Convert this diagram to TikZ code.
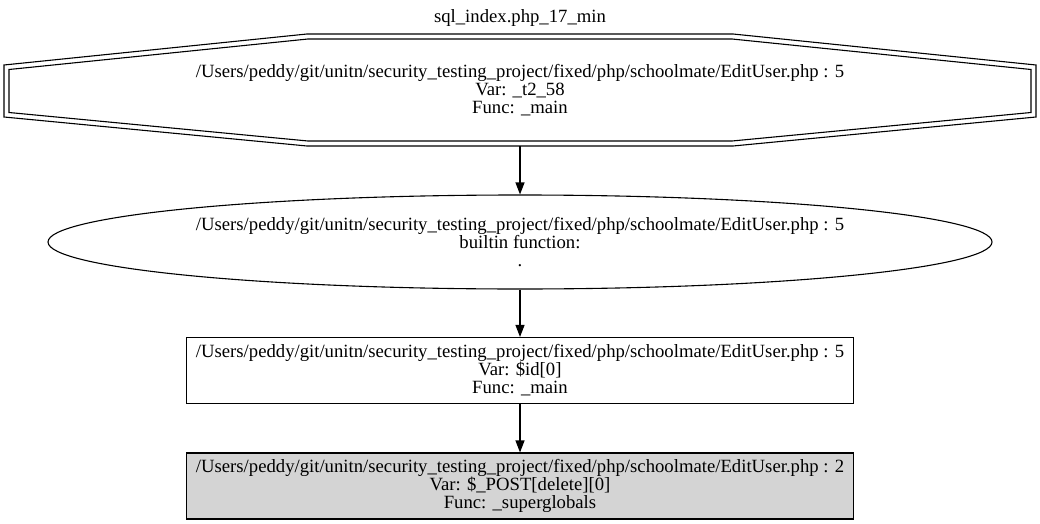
\documentclass[tikz,border=0pt]{standalone}
\usepackage{fontspec}
\setmainfont{Liberation Serif}
\usetikzlibrary{shapes.geometric,arrows.meta}
\begin{document}
\begin{tikzpicture}[x=1pt,y=-1pt,
  lbl/.style={align=center,font=\fontsize{18.7}{18}\selectfont},
  edge/.style={-{Triangle[length=12pt,width=9pt]},line width=1.1pt},
  boxnode/.style={lbl,draw,line width=1.1pt,inner sep=0pt,minimum width=667pt,minimum height=66pt}]
\useasboundingbox (0,0) rectangle (1040,524);
\node[lbl] (title) at (520,18) {sql\_index.php\_17\_min};
% octagon
\draw[line width=1.1pt] (307,34) -- (733,34) -- (1036,65) -- (1036,117) -- (733,146) -- (307,146) -- (4,117) -- (4,65) -- cycle;
\draw[line width=1.1pt] (308,39) -- (732,39) -- (1031,69.5) -- (1031,112.5) -- (732,141) -- (308,141) -- (9,112.5) -- (9,69.5) -- cycle;
\node[lbl,inner sep=0pt,minimum width=1032pt,minimum height=112pt] (oct) at (520,90) {/Users/peddy/git/unitn/security\_testing\_project/fixed/php/schoolmate/EditUser.php : 5\\Var: \_t2\_58\\Func: \_main};
\node[lbl,ellipse,draw,line width=1.1pt,inner sep=0pt,minimum width=944pt,minimum height=94pt] (ell) at (520,242) {/Users/peddy/git/unitn/security\_testing\_project/fixed/php/schoolmate/EditUser.php : 5\\builtin function:\\.};
\node[boxnode] (b1) at (520,370.5) {/Users/peddy/git/unitn/security\_testing\_project/fixed/php/schoolmate/EditUser.php : 5\\Var: \$id[0]\\Func: \_main};
\node[boxnode,fill=black!17] (b2) at (520,486) {/Users/peddy/git/unitn/security\_testing\_project/fixed/php/schoolmate/EditUser.php : 2\\Var: \$\_POST[delete][0]\\Func: \_superglobals};
\draw[edge] (oct.south) -- (ell.north);
\draw[edge] (ell.south) -- (b1.north);
\draw[edge] (b1.south) -- (b2.north);
\end{tikzpicture}
\end{document}
